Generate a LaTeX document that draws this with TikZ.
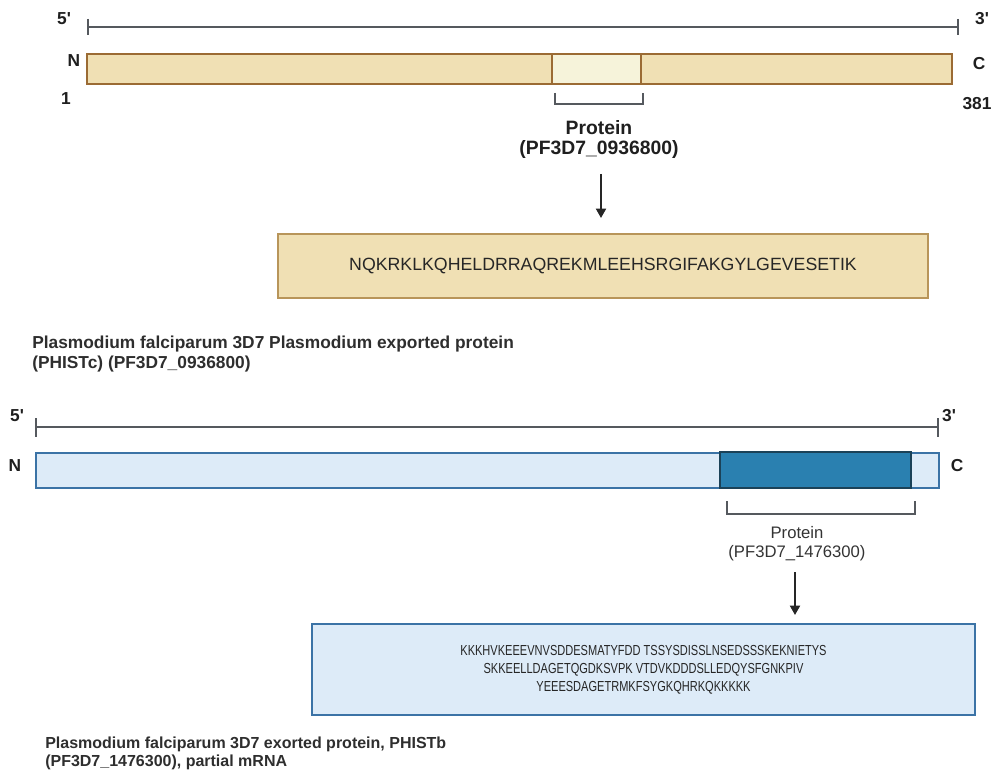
\documentclass[tikz,border=0pt]{standalone}
\usepackage{fontspec}
\setmainfont{Liberation Sans}
\newfontfamily\condfont[FakeStretch=0.76]{Liberation Sans}
\usetikzlibrary{arrows.meta}
\definecolor{tanfill}{HTML}{F0E0B4}
\definecolor{tanline}{HTML}{9B6B34}
\definecolor{paletan}{HTML}{F6F3DA}
\definecolor{seqtanline}{HTML}{B8955A}
\definecolor{axisgray}{HTML}{55595E}
\definecolor{bluefill}{HTML}{DDEBF8}
\definecolor{blueline}{HTML}{3B73A6}
\definecolor{darkblue}{HTML}{2A80B0}
\definecolor{darkblueline}{HTML}{1B4258}
\begin{document}
\begin{tikzpicture}[x=0.75pt,y=-0.75pt,
  lbl/.style={font=\bfseries\fontsize{13}{15}\selectfont, text=black!88, inner sep=0pt},
  axisline/.style={draw=axisgray, line width=1.7pt},
  brk/.style={draw=axisgray, line width=1.4pt},
  arr/.style={draw=black!85, line width=1.4pt, -{Triangle[length=7pt,width=7.5pt]}},
  captxt/.style={font=\bfseries\fontsize{13}{15}\selectfont, text=black!82, align=left, anchor=west, inner sep=0pt},
  seqtxt/.style={font=\fontsize{13.3}{15}\selectfont, text=black!85, align=center}
]
\useasboundingbox (0,0) rectangle (995,773);

% ---------- top section ----------
\draw[axisline] (88,27) -- (958,27);
\draw[axisline] (88,19) -- (88,35);
\draw[axisline] (958,19) -- (958,35);
\node[lbl] (fiveA) at (64,19) {5\textquotesingle};
\node[lbl] (threeA) at (982,19) {3\textquotesingle};

\draw[draw=tanline, fill=tanfill, line width=1.5pt] (87,54) rectangle (952,84);
\draw[draw=tanline, fill=paletan, line width=1.5pt] (552,54) rectangle (641,84);
\node[lbl] (nA) at (74,61) {N};
\node[lbl] (cA) at (979,64) {C};
\node[lbl] (oneA) at (66,99) {1};
\node[lbl] (endA) at (977,104) {381};

\draw[brk] (555,93) -- (555,104) -- (643,104) -- (643,93);
\node[lbl, font=\bfseries\fontsize{14.5}{15}\selectfont, align=center] (protA) at (599,140) {Protein\\(PF3D7\_0936800)};
\node[draw=seqtanline, fill=tanfill, line width=0.8pt, minimum width=650*0.75pt, minimum height=64*0.75pt, seqtxt] (seqA) at (603,266)
 {NQKRKLKQHELDRRAQREKMLEEHSRGIFAKGYLGEVESETIK};
\coordinate (arrAstart) at (601,174);
\coordinate (arrAend) at (601,218);
\draw[arr] (arrAstart) -- (arrAend);
\node[captxt] (capA) at (32,354) {Plasmodium falciparum 3D7 Plasmodium exported protein\\(PHISTc) (PF3D7\_0936800)};

% ---------- bottom section ----------
\draw[axisline] (36,427) -- (938,427);
\draw[axisline] (36,418) -- (36,437);
\draw[axisline] (938,418) -- (938,437);
\node[lbl] (fiveB) at (17,416) {5\textquotesingle};
\node[lbl] (threeB) at (949,416) {3\textquotesingle};

\draw[draw=blueline, fill=bluefill, line width=1.5pt] (36,453) rectangle (939,488);
\draw[draw=darkblueline, fill=darkblue, line width=2pt] (720,452) rectangle (911,488);
\node[lbl] (nB) at (15,466) {N};
\node[lbl] (cB) at (957,466) {C};

\draw[brk] (727,501) -- (727,514) -- (915,514) -- (915,501);
\node[lbl, font=\fontsize{12.5}{14.5}\selectfont, align=center, text=black!80] (protB) at (797,544) {Protein\\(PF3D7\_1476300)};
\node[draw=blueline, fill=bluefill, line width=0.8pt, minimum width=663*0.75pt, minimum height=91*0.75pt, seqtxt, font=\condfont\fontsize{10.9}{13.5}\selectfont] (seqB) at (643.5,669.5)
 {KKKHVKEEEVNVSDDESMATYFDD TSSYSDISSLNSEDSSSKEKNIETYS\\SKKEELLDAGETQGDKSVPK VTDVKDDDSLLEDQYSFGNKPIV\\YEEESDAGETRMKFSYGKQHRKQKKKKK};
\coordinate (arrBstart) at (795,572);
\coordinate (arrBend) at (795,615);
\draw[arr] (arrBstart) -- (arrBend);
\node[captxt, font=\bfseries\fontsize{12}{13.5}\selectfont] (capB) at (45,753) {Plasmodium falciparum 3D7 exorted protein, PHISTb\\(PF3D7\_1476300), partial mRNA};
\end{tikzpicture}
\end{document}
